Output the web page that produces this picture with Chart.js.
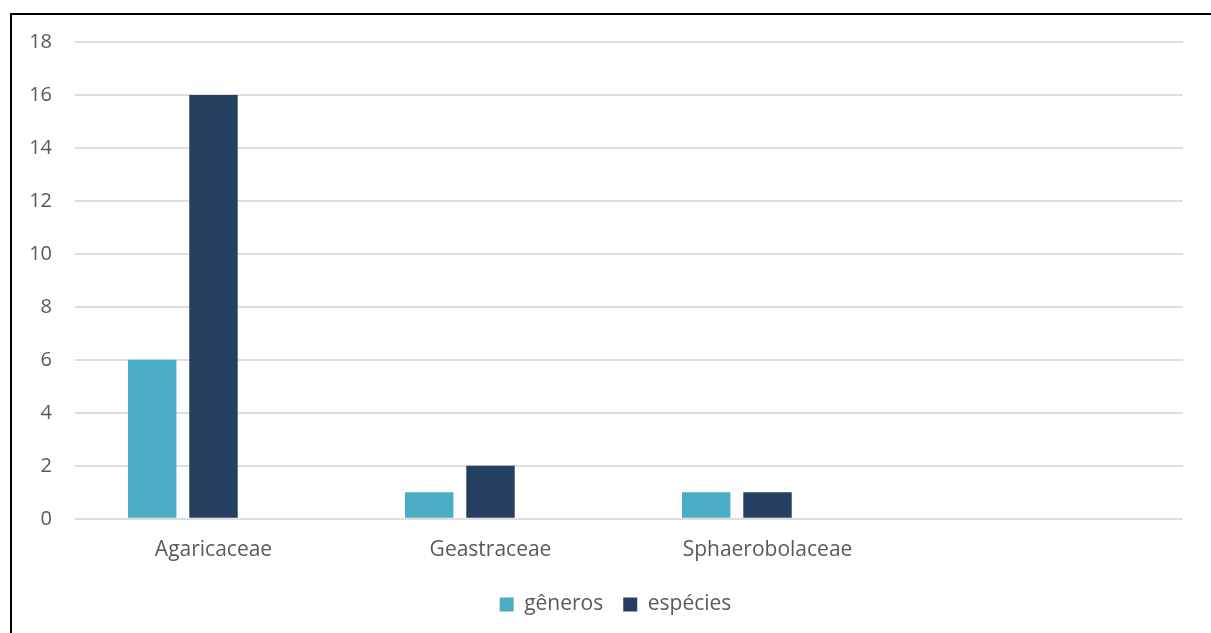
<!DOCTYPE html>
<html lang="pt">
<head>
<meta charset="UTF-8">
<title>Gêneros e espécies por família</title>
<script src="https://cdn.jsdelivr.net/npm/chart.js@4.4.1/dist/chart.umd.min.js"></script>
<style>
    html, body { margin: 0; padding: 0; background: #fff; }
    .wrap { position: relative; width: 1211px; height: 633px; overflow: hidden; }
    .frame {
        position: absolute; left: 10px; top: 13px; width: 1300px; height: 700px;
        border-left: 2px solid #000; border-top: 2px solid #000;
        pointer-events: none;
    }
    canvas { position: absolute; left: 0; top: 0; }
</style>
</head>
<body>
<div class="wrap">
    <canvas id="chart" width="1211" height="633"></canvas>
    <div class="frame"></div>
</div>
<script>
    const familias = ['Agaricaceae', 'Geastraceae', 'Sphaerobolaceae', ''];
    const generos = [6, 1, 1, null];
    const especies = [16, 2, 1, null];
    // terceira série vazia, mantida para reservar o espaço das barras
    const vazia = [null, null, null, null];
    const yTicks = [0, 2, 4, 6, 8, 10, 12, 14, 16, 18];

    const textColor = '#595959';
    Chart.defaults.font.family = '"Open Sans", sans-serif';
    Chart.defaults.font.size = 21;
    Chart.defaults.color = textColor;

    // empurra a legenda um pouco para a direita
    const legendShift = {
        id: 'legendShift',
        afterLayout(chart) {
            chart.legend.left += 24;
            chart.legend.right += 24;
        }
    };

    new Chart(document.getElementById('chart'), {
        type: 'bar',
        data: {
            labels: familias,
            datasets: [
                { label: 'gêneros', data: generos, backgroundColor: '#4BACC6' },
                { label: 'espécies', data: especies, backgroundColor: '#253F60' },
                { label: '', data: vazia, backgroundColor: '#9BBB59' }
            ]
        },
        plugins: [legendShift],
        options: {
            responsive: false,
            animation: false,
            datasets: {
                bar: { categoryPercentage: 0.664, barPercentage: 0.79 }
            },
            layout: { padding: { top: 42, right: 28, bottom: 8, left: 0 } },
            plugins: {
                tooltip: { enabled: false },
                legend: {
                    position: 'bottom',
                    labels: {
                        boxWidth: 14,
                        boxHeight: 14,
                        padding: 20,
                        color: textColor,
                        filter: item => item.text !== ''
                    }
                }
            },
            scales: {
                x: {
                    grid: { display: false },
                    border: { display: false },
                    ticks: { padding: 11, color: textColor }
                },
                y: {
                    min: 0,
                    max: 18,
                    afterBuildTicks: scale => { scale.ticks = yTicks.map(v => ({ value: v })); },
                    afterFit: scale => { scale.width = 75; },
                    grid: { color: '#dedede', lineWidth: 2, drawTicks: false },
                    border: { display: false },
                    ticks: { padding: 23, color: textColor, font: { size: 20 } }
                }
            }
        }
    });
</script>
</body>
</html>
